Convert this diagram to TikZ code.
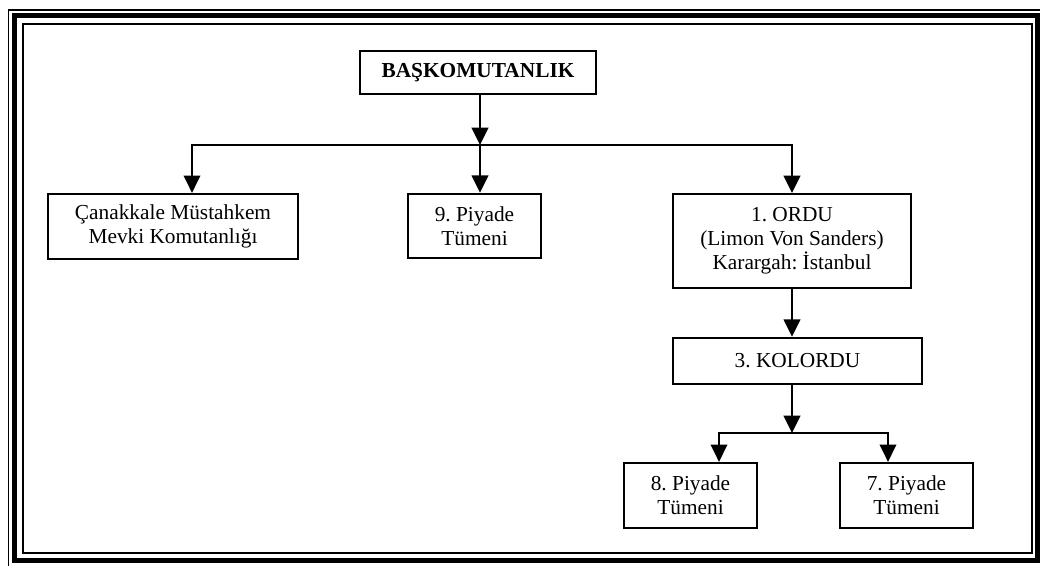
\documentclass[tikz,border=0pt]{standalone}
\usepackage{fontspec}
\setmainfont{Liberation Serif}
\usetikzlibrary{arrows.meta}
\frenchspacing
\def\outerframe{(8.3,10) rectangle (1046,567)}
\def\thickframe{(14.5,15.7) rectangle (1037,560.5)}
\def\innerframe{(22.5,23.5) rectangle (1032,553)}
\tikzset{
  kutu/.style={draw,line width=1.5pt,inner sep=0pt,align=center,font=\fontsize{16}{18}\selectfont},
  ok/.style={-{Triangle[width=12.5pt,length=13pt]},line width=1.4pt},
}

\begin{document}
\begin{tikzpicture}[x=0.75pt,y=-0.75pt]
			\useasboundingbox (0,0) rectangle (1040,565);
			\begin{scope}
				\clip (0,0) rectangle (1040,565);
				\draw[line width=1.2pt] \outerframe;
				\draw[line width=3.75pt] \thickframe;
				\draw[line width=1.5pt] \innerframe;
			\end{scope}
			\node[kutu,minimum width=177pt,minimum height=32.5pt] (bas) at (478,72.5) {\textbf{BAŞKOMUTANLIK}};
			\node[kutu,minimum width=187.5pt,minimum height=49pt] (cnk) at (173,226.5) {Çanakkale Müstahkem\\Mevki Komutanlığı};
			\node[kutu,minimum width=100pt,minimum height=48.5pt] (p9) at (474.5,226) {9. Piyade\\Tümeni};
			\node[kutu,minimum width=178.5pt,minimum height=70.5pt] (ordu) at (792,241) {1. ORDU\\(Limon Von Sanders)\\Karargah: İstanbul};
			\node[kutu,minimum width=187pt,minimum height=35pt] (kol) at (797.5,361) {3. KOLORDU};
			\node[kutu,minimum width=100pt,minimum height=49pt] (p8) at (690.5,495.5) {8. Piyade\\Tümeni};
			\node[kutu,minimum width=100pt,minimum height=49pt] (p7) at (906.5,495.5) {7. Piyade\\Tümeni};
			\coordinate (hub) at (480,145);
			\coordinate (sol) at (192,145);
			\coordinate (sag) at (792,145);
			\coordinate (alt) at (792,433);
			\coordinate (altsol) at (719,433);
			\coordinate (altsag) at (888,433);
			\draw[ok] (bas.south -| hub) -- (hub);
			\draw[ok] (hub) -- (hub |- p9.north);
			\draw[ok] (hub) -- (sol) -- (sol |- cnk.north);
			\draw[ok] (hub) -- (sag) -- (ordu.north);
			\draw[ok] (ordu.south) -- (ordu.south |- kol.north);
			\draw[ok] (kol.south -| alt) -- (alt);
			\draw[ok] (alt) -- (altsol) -- (altsol |- p8.north);
			\draw[ok] (alt) -- (altsag) -- (altsag |- p7.north);
		\end{tikzpicture}
\end{document}
